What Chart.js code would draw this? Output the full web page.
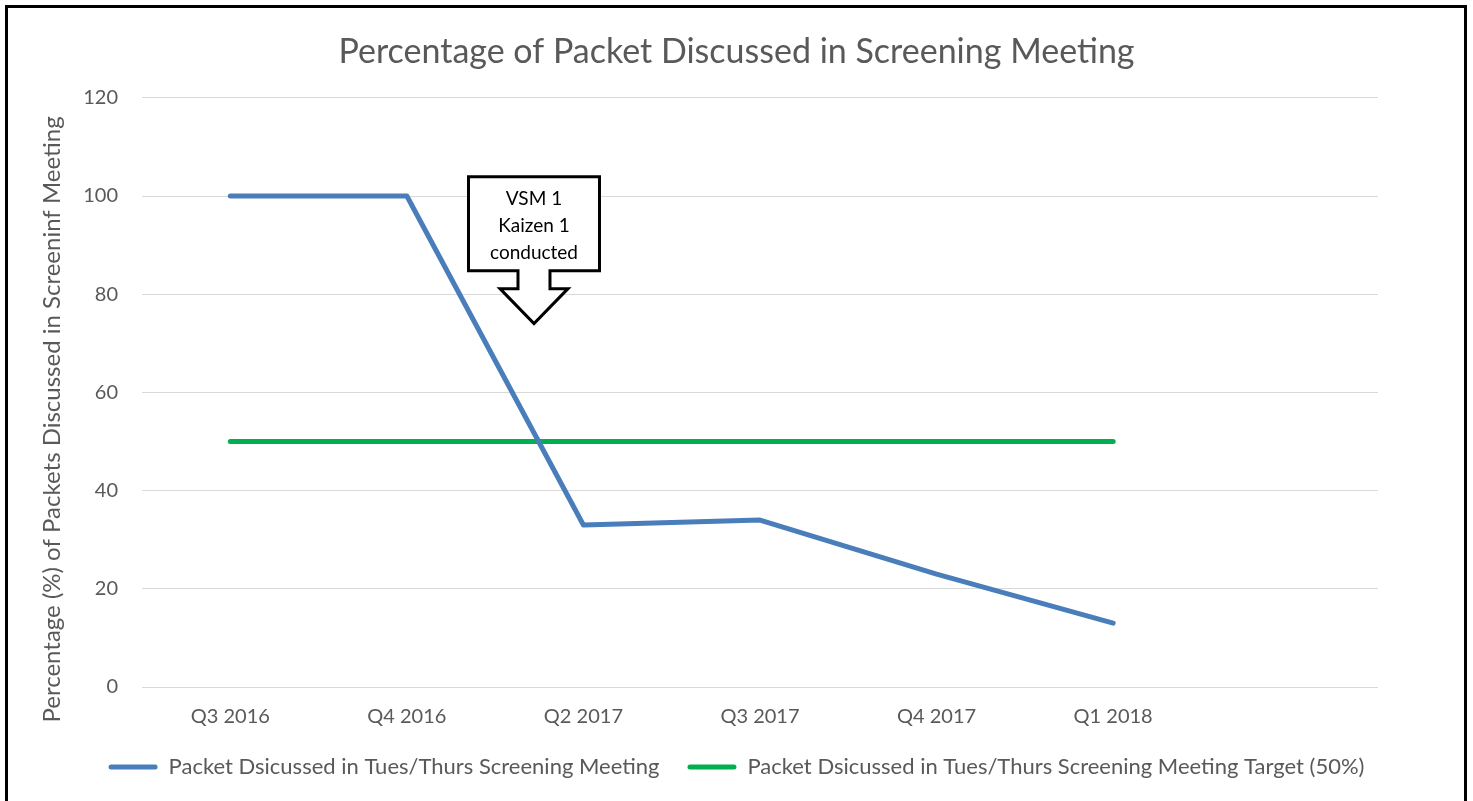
<!DOCTYPE html>
<html>
<head>
<meta charset="utf-8">
<script src="https://cdn.jsdelivr.net/npm/chart.js@4/dist/chart.umd.min.js"></script>
<style>
  html, body { margin: 0; padding: 0; background: #fff; overflow: hidden; }
  #wrap { position: relative; width: 1473px; height: 801px; }
  #frame { position: absolute; left: 5px; top: 5px; width: 1456px; height: 820px; border: 3px solid #000; pointer-events: none; }
</style>
</head>
<body>
<div id="wrap">
  <canvas id="screeningChart" width="1473" height="801"></canvas>
  <div id="frame"></div>
</div>
<script>
// quarters on the x axis (last slot is left empty like the original)
const quarters = ['Q3 2016', 'Q4 2016', 'Q2 2017', 'Q3 2017', 'Q4 2017', 'Q1 2018', ''];
const discussed = [100, 100, 33, 34, 23, 13];
const target = [50, 50, 50, 50, 50, 50];
const yTicks = [0, 20, 40, 60, 80, 100, 120];

const yTitle = 'Percentage (%) of Packets Discussed in Screeninf Meeting';

// callout "VSM 1 / Kaizen 1 / conducted" - where the arrow points (category index, value)
const calloutLines = ['VSM 1', 'Kaizen 1', 'conducted'];
const calloutAt = 1.72;
const calloutTip = 74;

const font = 'Lato, Calibri, sans-serif';
const grey = '#595959';

const calloutPlugin = {
    id: 'callout',
    afterDatasetsDraw(chart) {
        const ctx = chart.ctx;
        const cx = chart.scales.x.getPixelForValue(calloutAt);
        const tipY = chart.scales.y.getPixelForValue(calloutTip);
        // shape sizes
        const boxW = 131, boxH = 94, shaftW = 32, wingW = 68, headH = 35, shaftH = 18;
        const boxBottom = tipY - headH - shaftH;
        const boxTop = boxBottom - boxH;
        ctx.save();
        ctx.beginPath();
        ctx.moveTo(cx - boxW / 2, boxTop);
        ctx.lineTo(cx + boxW / 2, boxTop);
        ctx.lineTo(cx + boxW / 2, boxBottom);
        ctx.lineTo(cx + shaftW / 2, boxBottom);
        ctx.lineTo(cx + shaftW / 2, boxBottom + shaftH);
        ctx.lineTo(cx + wingW / 2, boxBottom + shaftH);
        ctx.lineTo(cx, tipY);
        ctx.lineTo(cx - wingW / 2, boxBottom + shaftH);
        ctx.lineTo(cx - shaftW / 2, boxBottom + shaftH);
        ctx.lineTo(cx - shaftW / 2, boxBottom);
        ctx.lineTo(cx - boxW / 2, boxBottom);
        ctx.closePath();
        ctx.fillStyle = '#fff';
        ctx.fill();
        ctx.lineWidth = 3;
        ctx.lineJoin = 'miter';
        ctx.strokeStyle = '#000';
        ctx.stroke();
        ctx.fillStyle = '#000';
        ctx.font = '19px ' + font;
        ctx.textAlign = 'center';
        ctx.textBaseline = 'middle';
        calloutLines.forEach((t, i) => {
            ctx.fillText(t, cx, boxTop + 22 + i * 27);
        });
        ctx.restore();
    }
};

// y axis title, drawn by hand so it sits a bit lower than the plot centre like the original
const yTitlePlugin = {
    id: 'yTitle',
    afterDraw(chart) {
        const ctx = chart.ctx;
        const area = chart.chartArea;
        ctx.save();
        ctx.translate(52, (area.top + area.bottom) / 2 + 27);
        ctx.rotate(-Math.PI / 2);
        ctx.fillStyle = grey;
        ctx.font = '24px ' + font;
        ctx.textAlign = 'center';
        ctx.textBaseline = 'middle';
        ctx.fillText(yTitle, 0, 0);
        ctx.restore();
    }
};

new Chart(document.getElementById('screeningChart'), {
    type: 'line',
    data: {
        labels: quarters,
        datasets: [
            {
                label: 'Packet Dsicussed in Tues/Thurs Screening Meeting',
                data: discussed,
                borderColor: '#4A7EBB',
                backgroundColor: '#4A7EBB',
                borderWidth: 5,
                pointRadius: 0,
                tension: 0,
                borderCapStyle: 'round',
                borderJoinStyle: 'round'
            },
            {
                label: 'Packet Dsicussed in Tues/Thurs Screening Meeting Target (50%)',
                data: target,
                borderColor: '#00B050',
                backgroundColor: '#00B050',
                borderWidth: 5,
                pointRadius: 0,
                tension: 0,
                borderCapStyle: 'round'
            }
        ]
    },
    options: {
        responsive: false,
        animation: false,
        layout: { padding: { left: 10, right: 10, top: 22, bottom: 13 } },
        plugins: {
            title: {
                display: true,
                text: 'Percentage of Packet Discussed in Screening Meeting',
                color: grey,
                font: { family: font, size: 34, weight: 'normal' },
                padding: { top: 10, bottom: 25 }
            },
            legend: {
                position: 'bottom',
                labels: {
                    color: grey,
                    font: { family: font, size: 22 },
                    boxWidth: 49,
                    boxHeight: 5,
                    useBorderRadius: true,
                    borderRadius: 2.5,
                    padding: 28,
                    generateLabels(chart) {
                        const items = Chart.defaults.plugins.legend.labels.generateLabels(chart);
                        items.forEach(it => { it.lineWidth = 0; });
                        return items;
                    }
                }
            },
            tooltip: { enabled: false }
        },
        scales: {
            x: {
                offset: true,
                grid: { display: false },
                border: { display: false },
                afterFit(scale) { scale.height = scale.height - 11; },
                ticks: { color: grey, font: { family: font, size: 20 }, padding: 10, maxRotation: 0, autoSkip: false }
            },
            y: {
                min: 0,
                max: 120,
                afterBuildTicks(scale) { scale.ticks = yTicks.map(v => ({ value: v })); },
                afterFit(scale) { scale.width = 132; },
                grid: { color: '#d9d9d9', lineWidth: 1, drawTicks: false },
                border: { display: false },
                ticks: { color: grey, font: { family: font, size: 20 }, padding: 24 }
            },
            spacer: {
                position: 'right',
                display: true,
                afterFit(scale) { scale.width = 85; },
                grid: { display: false },
                border: { display: false },
                ticks: { display: false }
            }
        }
    },
    plugins: [calloutPlugin, yTitlePlugin]
});
</script>
</body>
</html>
